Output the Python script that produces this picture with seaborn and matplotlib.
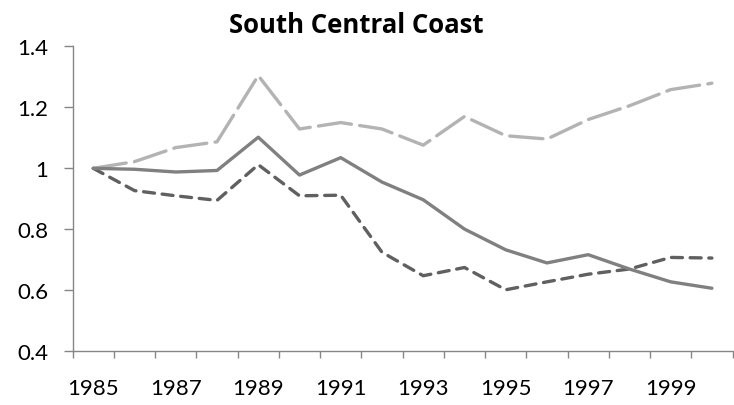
import pandas as pd
import seaborn as sns
import matplotlib.pyplot as plt
from matplotlib.ticker import FixedLocator, NullFormatter

sns.set_style('white')
plt.rcParams['font.family'] = ['Lato', 'DejaVu Sans']
plt.rcParams['text.color'] = 'black'
plt.rcParams['xtick.color'] = 'black'
plt.rcParams['ytick.color'] = 'black'

# Data (index relative to 1985)
years = list(range(1985, 2001))
solid_vals = [1.0, 0.997, 0.988, 0.993, 1.102, 0.978, 1.035, 0.955, 0.897, 0.801,
              0.733, 0.690, 0.717, 0.670, 0.628, 0.607]
dark_dash_vals = [1.0, 0.927, 0.910, 0.895, 1.012, 0.910, 0.912, 0.725, 0.648, 0.675,
                  0.602, 0.628, 0.653, 0.670, 0.708, 0.706]
light_dash_vals = [1.0, 1.022, 1.068, 1.087, 1.304, 1.129, 1.150, 1.129, 1.076, 1.170,
                   1.107, 1.096, 1.160, 1.205, 1.258, 1.279]
year_labels = [str(y) for y in years[::2]]

df = pd.DataFrame({'pos': range(len(years)), 'solid': solid_vals,
                   'dark': dark_dash_vals, 'light': light_dash_vals})

fig = plt.figure(figsize=(7.34, 4.06), dpi=100)
ax = fig.add_axes([0.099, 0.132, 0.899, 0.7515])

sns.lineplot(data=df, x='pos', y='light', ax=ax, color='#b3b3b3', lw=2.4)
ax.lines[-1].set_dashes([10, 2.5])
sns.lineplot(data=df, x='pos', y='dark', ax=ax, color='#606060', lw=2.4)
ax.lines[-1].set_dashes([3.3, 2.3])
sns.lineplot(data=df, x='pos', y='solid', ax=ax, color='#808080', lw=2.4)
for ln in ax.lines:
    ln.set_dash_capstyle('round')
    ln.set_solid_capstyle('round')

ax.set_xlim(-0.5, len(years) - 0.5)
ax.set_ylim(0.4, 1.4)
ax.set_yticks([0.4, 0.6, 0.8, 1.0, 1.2, 1.4])
ax.set_yticklabels(['0.4', '0.6', '0.8', '1', '1.2', '1.4'])
ax.xaxis.set_major_locator(FixedLocator([i - 0.5 for i in range(len(years) + 1)]))
ax.xaxis.set_major_formatter(NullFormatter())
ax.xaxis.set_minor_locator(FixedLocator(list(range(0, len(years), 2))))
ax.set_xticklabels(year_labels, minor=True)
ax.tick_params(axis='x', which='major', bottom=True, direction='out', length=5,
               width=1, color='#868686')
ax.tick_params(axis='x', which='minor', bottom=True, length=0, pad=19, labelsize=16)
ax.tick_params(axis='y', left=True, direction='out', length=6.5, width=1,
               color='#868686', labelsize=16, pad=11)
for s in ['top', 'right']:
    ax.spines[s].set_visible(False)
for s in ['left', 'bottom']:
    ax.spines[s].set_color('#868686')
    ax.spines[s].set_linewidth(1)
ax.set_xlabel('')
ax.set_ylabel('')
ax.set_title('South Central Coast', fontsize=18.5, fontweight='bold', pad=10,
             x=0.43, family=['Open Sans', 'DejaVu Sans'])

fig.savefig('out.png', dpi=100)
